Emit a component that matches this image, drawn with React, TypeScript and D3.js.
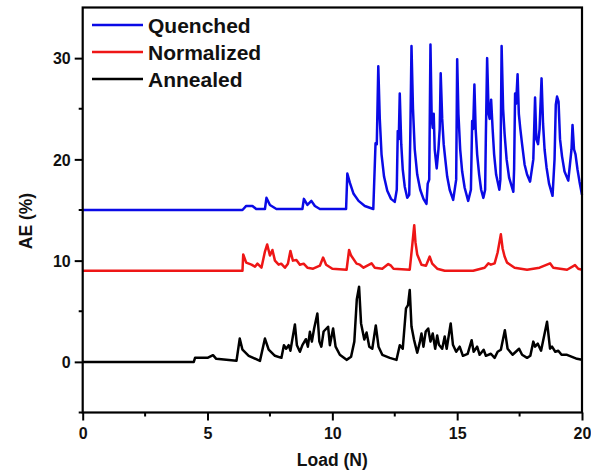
import React, { useEffect, useRef } from 'react'
import * as d3 from 'd3'

// [load (N), AE (%)]
const quenched: [number, number][] = [
  [0, 15.0], [6.4, 15.0], [6.55, 15.4], [6.8, 15.4], [6.95, 15.1], [7.3, 15.1], [7.36, 16.2], [7.5, 15.5],
  [7.76, 15.1], [8.8, 15.1], [8.86, 16.1], [9.0, 15.5], [9.16, 15.9], [9.3, 15.4], [9.5, 15.1], [10.55, 15.1],
  [10.6, 18.6], [10.7, 17.7], [10.85, 16.6], [11.05, 15.9], [11.3, 15.4], [11.64, 15.1],
  [11.73, 21.6], [11.78, 21.5], [11.84, 29.2], [11.9, 24], [11.97, 20.5], [12.07, 18.3], [12.2, 16.9],
  [12.35, 16.1], [12.5, 15.8],
  [12.58, 17], [12.62, 22.8], [12.66, 22], [12.7, 26.5], [12.76, 21.5], [12.82, 19], [12.9, 17.3], [13.0, 16.2],
  [13.08, 16.5], [13.12, 22], [13.17, 31.2], [13.23, 25], [13.3, 21], [13.4, 18.5], [13.52, 17], [13.65, 16.1],
  [13.77, 15.6],
  [13.82, 17.6], [13.88, 18], [13.93, 31.35], [13.98, 24], [14.02, 23.1], [14.06, 24.5], [14.1, 21],
  [14.18, 19.1], [14.25, 21], [14.3, 23], [14.34, 28.5], [14.4, 24], [14.46, 21.5], [14.52, 20.1],
  [14.6, 18.3], [14.7, 17], [14.84, 16.0],
  [14.96, 18], [15.0, 29.9], [15.05, 24.5], [15.12, 21], [15.2, 18.8], [15.3, 17.2], [15.44, 15.9],
  [15.55, 17], [15.6, 23.8], [15.64, 23], [15.69, 27.4], [15.74, 23], [15.8, 20.5], [15.88, 18.5],
  [15.96, 17], [16.05, 16.2],
  [16.12, 17], [16.15, 22.5], [16.2, 30.0], [16.26, 24.5], [16.3, 24], [16.36, 25.9], [16.42, 23],
  [16.48, 20.5], [16.56, 18.5], [16.69, 17.0],
  [16.73, 18], [16.78, 31.2], [16.84, 25], [16.9, 22.5], [16.98, 20], [17.08, 18.2], [17.25, 16.8],
  [17.28, 19], [17.32, 26.5], [17.36, 25.5], [17.42, 28.4], [17.47, 24.5], [17.53, 23], [17.6, 21.5],
  [17.7, 19.5], [17.8, 18.5], [17.92, 17.8],
  [18.05, 20], [18.12, 26.1], [18.17, 22], [18.24, 21.5], [18.3, 23], [18.38, 28.0], [18.44, 23.5],
  [18.5, 21], [18.58, 19.2], [18.68, 17.6], [18.82, 16.4],
  [18.9, 20], [18.95, 25.4], [19.0, 26.2], [19.06, 25.7], [19.12, 22], [19.2, 20.3], [19.3, 18.8],
  [19.45, 17.9],
  [19.58, 21], [19.62, 23.4], [19.68, 21], [19.74, 20.5], [19.82, 19], [19.9, 17.8], [20.0, 16.5],
]

const normalized: [number, number][] = [
  [0, 9.0], [6.4, 9.0], [6.43, 10.6], [6.55, 9.8], [6.76, 9.6], [6.9, 9.4], [7.0, 9.7], [7.16, 9.3],
  [7.3, 10.9], [7.39, 11.6], [7.5, 10.5], [7.6, 11.05], [7.7, 10.0], [7.85, 9.6], [7.95, 9.7], [8.1, 9.3],
  [8.22, 9.7], [8.32, 10.96], [8.42, 10.0], [8.56, 10.07], [8.7, 9.6], [8.85, 9.7], [9.0, 9.3], [9.23, 9.2],
  [9.5, 9.5], [9.63, 10.3], [9.75, 9.6], [10.0, 9.2], [10.57, 9.1], [10.67, 11.05], [10.75, 10.5],
  [10.97, 9.7], [11.1, 9.6], [11.25, 9.3], [11.4, 9.5], [11.57, 9.73], [11.7, 9.3], [12.0, 9.2],
  [12.24, 9.66], [12.35, 9.5], [12.45, 9.2], [13.1, 9.1], [13.2, 11.5], [13.28, 13.5], [13.33, 11.8],
  [13.4, 10.6], [13.57, 9.6], [13.75, 9.5], [13.9, 10.4], [14.0, 9.7], [14.2, 9.2], [14.5, 9.0], [15.64, 9.0],
  [16.1, 9.3], [16.25, 9.73], [16.35, 9.6], [16.5, 9.73], [16.62, 10.8], [16.75, 12.6], [16.82, 11.2],
  [16.9, 10.4], [17.0, 9.8], [17.3, 9.3], [17.8, 9.1], [18.3, 9.3], [18.72, 9.73], [18.85, 9.3], [19.4, 9.1],
  [19.72, 9.56], [19.85, 9.2], [20, 9.1],
]

const annealed: [number, number][] = [
  [0, 0], [4.45, 0], [4.5, 0.4], [5.0, 0.4], [5.22, 0.66], [5.35, 0.3], [6.16, 0.1], [6.29, 2.3],
  [6.4, 1.2], [6.65, 0.6], [7.1, 0.1], [7.3, 2.3], [7.45, 1.2], [7.7, 0.6], [7.96, 0.4], [8.06, 1.65],
  [8.15, 1.3], [8.25, 1.65], [8.32, 1.1], [8.5, 3.7], [8.58, 1.65], [8.7, 1.0], [8.8, 1.65], [8.94, 2.24],
  [9.02, 1.5], [9.1, 2.97], [9.18, 2.0], [9.27, 3.3], [9.4, 4.78], [9.48, 2.0], [9.56, 1.5], [9.65, 3.0],
  [9.83, 3.47], [9.9, 1.65], [10.03, 3.3], [10.13, 1.5], [10.3, 0.7], [10.57, 0.2], [10.75, 0.5],
  [10.88, 2.0], [10.98, 6.2], [11.07, 7.43], [11.15, 3.8], [11.28, 2.2], [11.37, 2.9], [11.48, 1.5],
  [11.6, 1.3], [11.74, 3.6], [11.85, 1.5], [12.0, 0.7], [12.3, 0.4], [12.57, 0.2], [12.7, 1.65],
  [12.82, 1.3], [12.95, 5.28], [13.03, 5.6], [13.1, 7.1], [13.17, 3.5], [13.27, 2.2], [13.4, 0.9],
  [13.5, 1.9], [13.57, 2.8], [13.65, 1.5], [13.74, 3.0], [13.84, 3.3], [13.93, 2.0], [14.02, 2.8],
  [14.12, 1.3], [14.2, 2.6], [14.27, 1.7], [14.4, 1.3], [14.5, 2.5], [14.58, 1.3], [14.74, 3.8],
  [14.83, 1.7], [14.96, 1.0], [15.1, 1.5], [15.23, 0.6], [15.42, 0.8], [15.58, 2.14], [15.66, 1.0],
  [15.8, 1.5], [15.9, 0.7], [16.06, 1.2], [16.15, 0.6], [16.35, 0.8], [16.5, 0.4], [16.62, 1.0],
  [16.75, 1.2], [16.91, 3.13], [17.02, 1.3], [17.22, 0.7], [17.48, 1.3], [17.6, 0.7], [17.8, 0.4],
  [17.93, 0.6], [18.05, 2.0], [18.12, 1.5], [18.23, 1.8], [18.36, 1.1], [18.6, 3.96], [18.72, 1.3],
  [18.8, 1.5], [18.93, 1.0], [19.05, 1.1], [19.18, 0.7], [19.4, 0.7], [19.6, 0.5], [19.8, 0.3], [20, 0.2],
]

const seriesNames = ['Quenched', 'Normalized', 'Annealed']
const seriesColors = ['#0a0ae6', '#ee1616', '#000000']
const xTicks = [0, 5, 10, 15, 20]
const xMinorTicks = [2.5, 7.5, 12.5, 17.5]
const yTicks = [0, 10, 20, 30]
const yMinorTicks = [-5, 5, 15, 25]

const W = 591, H = 475
const margin = { top: 7.5, right: 9, bottom: 62.5, left: 82.7 }
const FONT = '"Liberation Sans", Arial, sans-serif'

export default function App() {
  const ref = useRef<SVGSVGElement>(null)

  useEffect(() => {
    const svg = d3.select(ref.current)
    svg.selectAll('*').remove()

    const x = d3.scaleLinear().domain([0, 20]).range([margin.left, W - margin.right])
    const y = d3.scaleLinear().domain([-5, 35]).range([H - margin.bottom, margin.top])

    const line = d3.line<[number, number]>()
      .x(d => x(d[0]))
      .y(d => y(d[1]))

    const all = [quenched, normalized, annealed]
    all.forEach((data, i) => {
      svg.append('path')
        .datum(data)
        .attr('d', line)
        .attr('fill', 'none')
        .attr('stroke', seriesColors[i])
        .attr('stroke-width', 2.5)
        .attr('stroke-linejoin', 'round')
    })

    // x axis
    const xAxis = d3.axisBottom(x).tickValues(xTicks).tickSize(8).tickFormat(d3.format('d'))
    const gx = svg.append('g')
      .attr('transform', `translate(0,${y(-5)})`)
      .call(xAxis)
    gx.select('.domain').remove()
    gx.selectAll('line').attr('stroke', '#000').attr('stroke-width', 2)
    gx.selectAll('text')
      .attr('dy', null)
      .attr('y', 26.5)
      .style('font-family', FONT)
      .style('font-weight', 'bold')
      .style('font-size', '16px')
      .attr('fill', '#111')
    xMinorTicks.forEach(t => {
      svg.append('line')
        .attr('x1', x(t)).attr('x2', x(t))
        .attr('y1', y(-5)).attr('y2', y(-5) + 4)
        .attr('stroke', '#000').attr('stroke-width', 2)
    })

    // y axis
    const yAxis = d3.axisLeft(y).tickValues(yTicks).tickSize(8).tickFormat(d3.format('d'))
    const gy = svg.append('g')
      .attr('transform', `translate(${x(0)},0)`)
      .call(yAxis)
    gy.select('.domain').remove()
    gy.selectAll('line').attr('stroke', '#000').attr('stroke-width', 2)
    gy.selectAll('text')
      .attr('x', -12)
      .attr('dy', '0.36em')
      .style('font-family', FONT)
      .style('font-weight', 'bold')
      .style('font-size', '16px')
      .attr('fill', '#111')
    yMinorTicks.forEach(t => {
      svg.append('line')
        .attr('x1', x(0) - 4).attr('x2', x(0))
        .attr('y1', y(t)).attr('y2', y(t))
        .attr('stroke', '#000').attr('stroke-width', 2)
    })

    // frame
    svg.append('rect')
      .attr('x', x(0)).attr('y', y(35))
      .attr('width', x(20) - x(0)).attr('height', y(-5) - y(35))
      .attr('fill', 'none')
      .attr('stroke', '#000')
      .attr('stroke-width', 2.2)

    // axis titles
    svg.append('text')
      .attr('x', (x(0) + x(20)) / 2)
      .attr('y', 466)
      .attr('text-anchor', 'middle')
      .style('font-family', FONT)
      .style('font-weight', 'bold')
      .style('font-size', '17.5px')
      .attr('fill', '#111')
      .text('Load (N)')

    svg.append('text')
      .attr('transform', `translate(32,221) rotate(-90)`)
      .attr('text-anchor', 'middle')
      .style('font-family', FONT)
      .style('font-weight', 'bold')
      .style('font-size', '17.5px')
      .attr('fill', '#111')
      .text('AE (%)')

    // legend
    seriesNames.forEach((name, i) => {
      const ly = 25 + i * 27
      svg.append('line')
        .attr('x1', 92).attr('x2', 143)
        .attr('y1', ly).attr('y2', ly)
        .attr('stroke', seriesColors[i])
        .attr('stroke-width', 2.5)
      svg.append('text')
        .attr('x', 148)
        .attr('y', ly + 8)
        .style('font-family', FONT)
        .style('font-weight', 'bold')
        .style('font-size', '21px')
        .attr('fill', '#111')
        .text(name)
    })
  }, [])

  return (
    <svg ref={ref} width={W} height={H}
      style={{ position: 'absolute', left: 0, top: 0, background: '#fff' }} />
  )
}
